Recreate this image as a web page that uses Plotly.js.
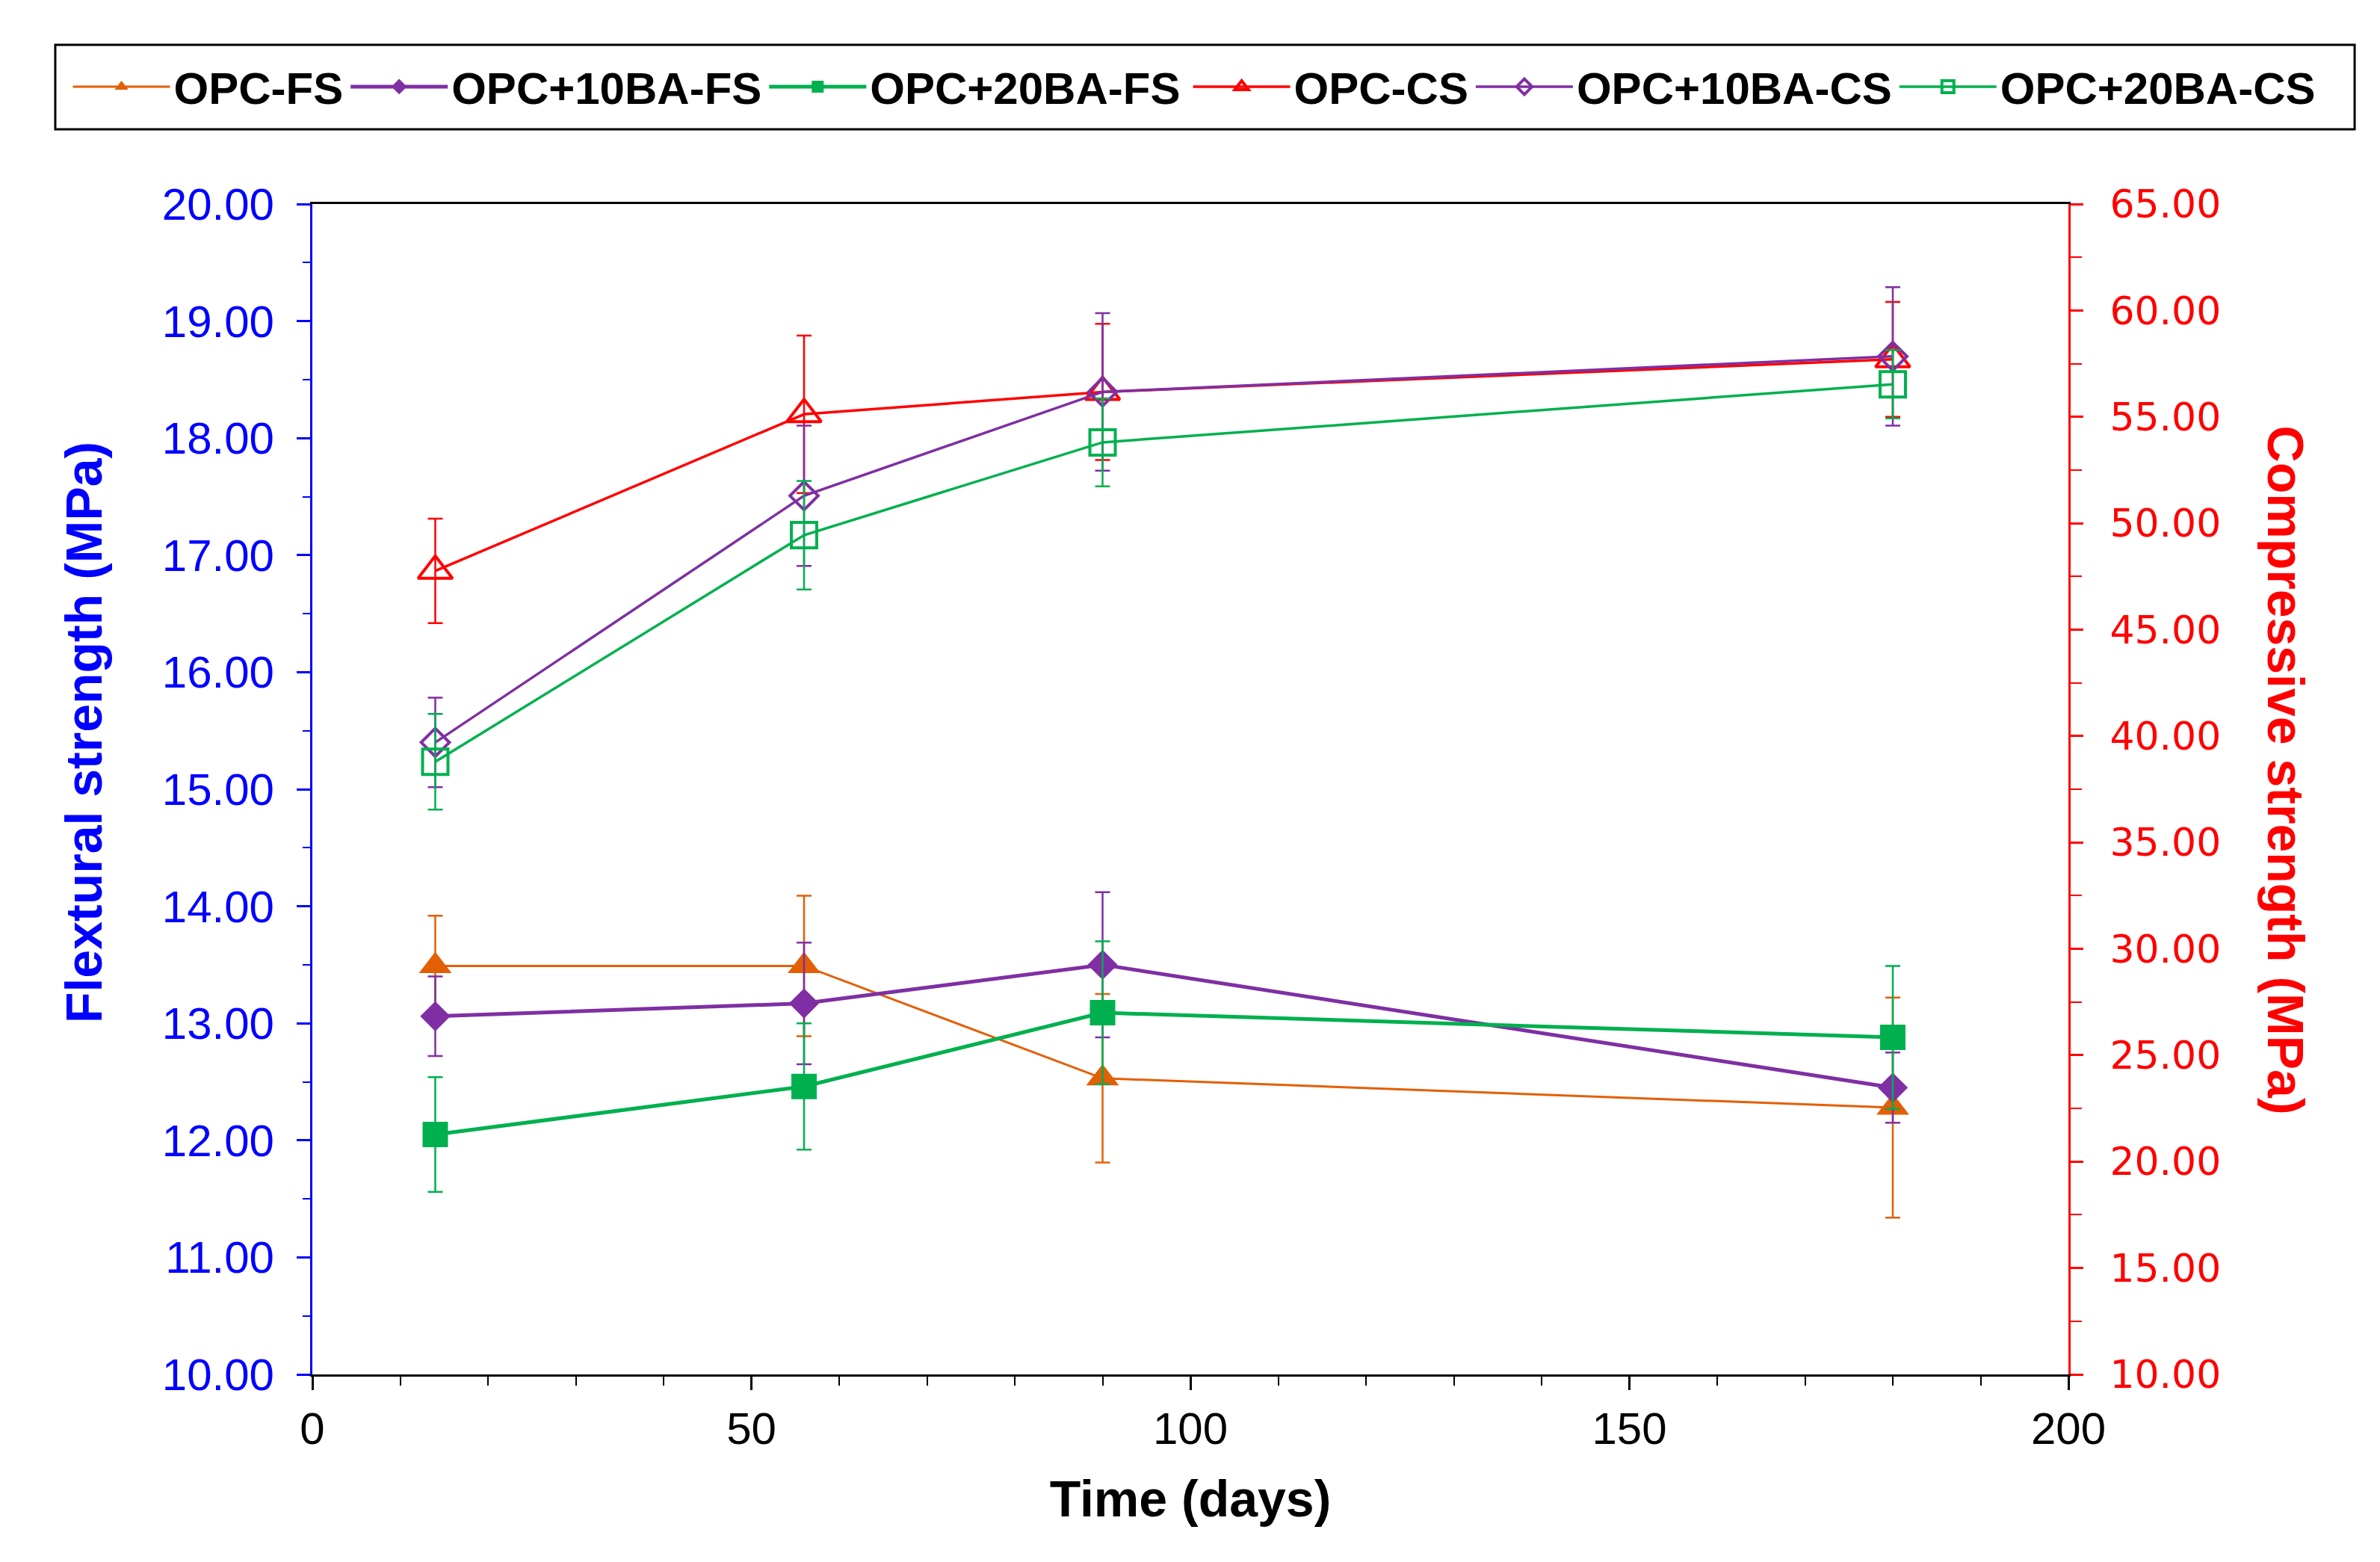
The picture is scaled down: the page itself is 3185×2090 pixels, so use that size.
<!DOCTYPE html>
<html>
<head>
<meta charset="utf-8">
<script src="https://cdn.plot.ly/plotly-3.0.1.min.js"></script>
<style>
  body { margin: 0; background: #fff; }
  #chart { width: 3185px; height: 2090px; }
</style>
</head>
<body>
<div id="chart"></div>
<script>
// curing age (days)
const days = [14, 56, 90, 180];

// flexural strength, MPa (left axis)
const opcFS = [13.49, 13.49, 12.53, 12.28];
const opcFSErr = [0.43, 0.60, 0.72, 0.94];
const ba10FS = [13.06, 13.17, 13.50, 12.45];
const ba10FSErr = [0.34, 0.52, 0.62, 0.30];
const ba20FS = [12.05, 12.46, 13.09, 12.88];
const ba20FSErr = [0.49, 0.54, 0.61, 0.61];

// compressive strength, MPa (right axis)
const opcCS = [47.76, 55.12, 56.17, 57.70];
const opcCSErr = [2.45, 3.70, 3.20, 2.70];
const ba10CS = [39.70, 51.29, 56.17, 57.84];
const ba10CSErr = [2.10, 3.30, 3.70, 3.25];
const ba20CS = [38.79, 49.44, 53.80, 56.53];
const ba20CSErr = [2.25, 2.55, 2.07, 1.60];

const ORANGE = '#E35F05';
const PURPLE = '#7F2FA3';
const GREEN = '#00B04F';
const RED = '#FF0000';
const BLUE = '#0000FF';

const FONT = 'Arial, "Liberation Sans", sans-serif';

function series(name, y, err, color, symbol, size, open, axis, lineWidth, legendId) {
    return {
        x: days,
        y: y,
        name: name,
        yaxis: axis,
        legend: legendId,
        type: 'scatter',
        mode: 'lines+markers',
        line: { color: color, width: lineWidth },
        marker: {
            symbol: symbol,
            size: size,
            color: color,
            line: { color: color, width: open ? 4 : 0 }
        },
        error_y: {
            type: 'data',
            array: err,
            visible: true,
            color: color,
            thickness: 2.5,
            width: 10
        }
    };
}

const traces = [
    series('OPC-FS', opcFS, opcFSErr, ORANGE, 'triangle-up', 38, false, 'y', 3, 'legend'),
    series('OPC+10BA-FS', ba10FS, ba10FSErr, PURPLE, 'diamond', 31, false, 'y', 5, 'legend'),
    series('OPC+20BA-FS', ba20FS, ba20FSErr, GREEN, 'square', 34, false, 'y', 5, 'legend'),
    series('OPC-CS', opcCS, opcCSErr, RED, 'triangle-up-open', 40, true, 'y2', 3.5, 'legend2'),
    series('OPC+10BA-CS', ba10CS, ba10CSErr, PURPLE, 'diamond-open', 29, true, 'y2', 3.5, 'legend2'),
    series('OPC+20BA-CS', ba20CS, ba20CSErr, GREEN, 'square-open', 34, true, 'y2', 3.5, 'legend2')
];

// one long legend row would wrap, so it is split in two halves inside one drawn box
const legendStyle = {
    orientation: 'h',
    y: 1.1003,
    xanchor: 'left',
    yanchor: 'middle',
    bgcolor: 'rgba(0,0,0,0)',
    borderwidth: 0,
    itemwidth: 130,
    font: { family: FONT, size: 60, weight: 'bold', color: '#000' }
};

const layout = {
    width: 3185,
    height: 2090,
    margin: { l: 418, r: 417, t: 273, b: 251 },
    paper_bgcolor: '#fff',
    plot_bgcolor: '#fff',
    font: { family: FONT, color: '#000' },
    showlegend: true,
    legend: Object.assign({ x: -0.1385 }, legendStyle),
    legend2: Object.assign({ x: 0.4994 }, legendStyle),
    shapes: [
        {
            type: 'rect',
            xref: 'paper', yref: 'paper',
            x0: -0.1464, x1: 1.1630,
            y0: 1.0638, y1: 1.1360,
            line: { color: '#000', width: 3 },
            fillcolor: 'rgba(0,0,0,0)'
        }
    ],
    xaxis: {
        range: [0, 200],
        dtick: 50,
        tick0: 0,
        ticks: 'outside',
        ticklen: 18,
        tickwidth: 3,
        tickcolor: '#000',
        minor: { dtick: 10, ticks: 'outside', ticklen: 12, tickwidth: 2, tickcolor: '#000' },
        showline: true,
        linecolor: '#000',
        linewidth: 3,
        mirror: true,
        showgrid: false,
        zeroline: false,
        tickfont: { family: FONT, size: 60, color: '#000' },
        ticklabelstandoff: 0,
        title: {
            text: 'Time (days)',
            standoff: 38,
            font: { family: FONT, size: 68, weight: 'bold', color: '#000' }
        }
    },
    yaxis: {
        range: [10, 20],
        dtick: 1,
        tick0: 10,
        tickformat: '.2f',
        ticks: 'outside',
        ticklen: 18,
        tickwidth: 3,
        tickcolor: BLUE,
        minor: { dtick: 0.5, ticks: 'outside', ticklen: 10, tickwidth: 2, tickcolor: BLUE },
        showline: true,
        linecolor: BLUE,
        linewidth: 3,
        showgrid: false,
        zeroline: false,
        tickfont: { family: FONT, size: 60, color: BLUE },
        ticklabelstandoff: 18
    },
    yaxis2: {
        overlaying: 'y',
        side: 'right',
        range: [10, 65],
        dtick: 5,
        tick0: 10,
        tickformat: '.2f',
        ticks: 'outside',
        ticklen: 17,
        tickwidth: 3,
        tickcolor: RED,
        minor: { dtick: 2.5, ticks: 'outside', ticklen: 15, tickwidth: 2, tickcolor: RED },
        showline: true,
        linecolor: RED,
        linewidth: 3,
        showgrid: false,
        zeroline: false,
        tickfont: { family: '"DejaVu Sans", sans-serif', size: 52, color: RED },
        ticklabelstandoff: 25
    },
    annotations: [
        {
            // left axis title
            text: 'Flextural strength (MPa)',
            xref: 'paper', yref: 'paper',
            x: -0.1302, y: 0.5485,
            xanchor: 'center', yanchor: 'middle',
            textangle: -90,
            showarrow: false,
            font: { family: FONT, size: 68, weight: 'bold', color: BLUE }
        },
        {
            // right axis title, reads top to bottom
            text: 'Compressive strength (MPa)',
            xref: 'paper', yref: 'paper',
            x: 1.124, y: 0.516,
            xanchor: 'center', yanchor: 'middle',
            textangle: 90,
            showarrow: false,
            font: { family: FONT, size: 68, weight: 'bold', color: RED }
        }
    ]
};

Plotly.newPlot('chart', traces, layout, { displayModeBar: false, staticPlot: true });
</script>
</body>
</html>
